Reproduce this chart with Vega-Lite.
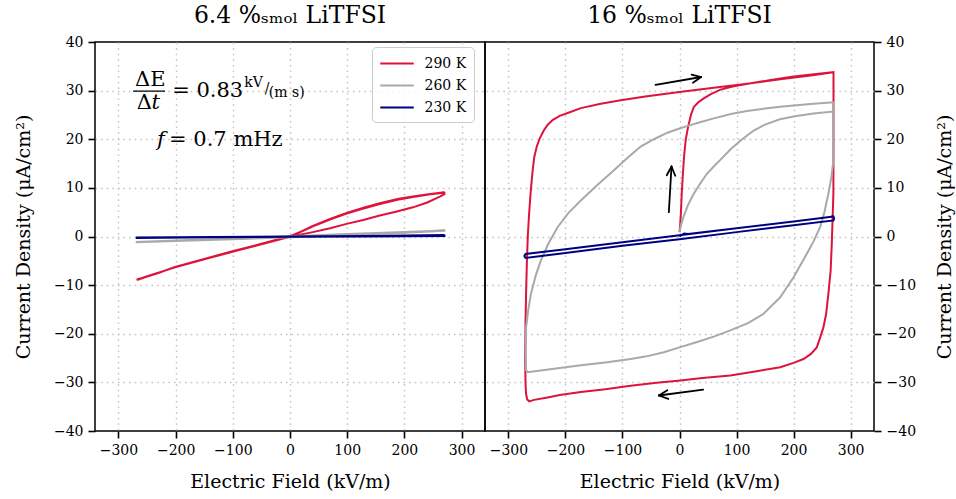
{
  "$schema": "https://vega.github.io/schema/vega-lite/v6.json",
  "padding": {"left": 13, "top": 2, "right": 2, "bottom": 2},
  "background": "white",
  "bounds": "flush",
  "config": {
    "font": "DejaVu Serif",
    "view": {"stroke": "black", "strokeWidth": 1.5},
    "axis": {
      "labelFont": "DejaVu Serif", "labelFontSize": 14, "labelColor": "black",
      "titleFont": "DejaVu Serif", "titleFontSize": 19, "titleFontWeight": "normal", "titleColor": "black",
      "tickColor": "black", "tickWidth": 1.6, "tickSize": 7, "domain": false,
      "gridColor": "#c4c4c4", "gridDash": [1.6, 4], "gridWidth": 1.4, "labelPadding": 5
    },
    "legend": {"labelFont": "DejaVu Serif"},
    "title": {"font": "DejaVu Serif", "fontSize": 23.5, "fontWeight": "normal", "color": "black", "offset": 8}
  },
  "datasets": {
    "left": [
      {"T": "290 K", "i": 0, "E": 0, "J": 0},
      {"T": "290 K", "i": 1, "E": 20, "J": 1.0},
      {"T": "290 K", "i": 2, "E": 40, "J": 2.1},
      {"T": "290 K", "i": 3, "E": 70, "J": 3.5},
      {"T": "290 K", "i": 4, "E": 99, "J": 4.7},
      {"T": "290 K", "i": 5, "E": 130, "J": 5.8},
      {"T": "290 K", "i": 6, "E": 157, "J": 6.7},
      {"T": "290 K", "i": 7, "E": 190, "J": 7.6},
      {"T": "290 K", "i": 8, "E": 215, "J": 8.1},
      {"T": "290 K", "i": 9, "E": 245, "J": 8.7},
      {"T": "290 K", "i": 10, "E": 265, "J": 8.95},
      {"T": "290 K", "i": 11, "E": 270, "J": 9.0},
      {"T": "290 K", "i": 12, "E": 270, "J": 8.7},
      {"T": "290 K", "i": 13, "E": 262, "J": 8.2},
      {"T": "290 K", "i": 14, "E": 240, "J": 7.0},
      {"T": "290 K", "i": 15, "E": 215, "J": 6.0},
      {"T": "290 K", "i": 16, "E": 185, "J": 5.1},
      {"T": "290 K", "i": 17, "E": 157, "J": 4.3},
      {"T": "290 K", "i": 18, "E": 128, "J": 3.4},
      {"T": "290 K", "i": 19, "E": 99, "J": 2.6},
      {"T": "290 K", "i": 20, "E": 70, "J": 1.7},
      {"T": "290 K", "i": 21, "E": 40, "J": 0.9},
      {"T": "290 K", "i": 22, "E": 15, "J": 0.3},
      {"T": "290 K", "i": 23, "E": 0, "J": -0.05},
      {"T": "290 K", "i": 24, "E": -50, "J": -1.6},
      {"T": "290 K", "i": 25, "E": -99, "J": -3.1},
      {"T": "290 K", "i": 26, "E": -150, "J": -4.7},
      {"T": "290 K", "i": 27, "E": -201, "J": -6.35},
      {"T": "290 K", "i": 28, "E": -240, "J": -7.8},
      {"T": "290 K", "i": 29, "E": -260, "J": -8.6},
      {"T": "290 K", "i": 30, "E": -268, "J": -8.85},
      {"T": "290 K", "i": 31, "E": -266, "J": -8.9},
      {"T": "290 K", "i": 32, "E": -255, "J": -8.45},
      {"T": "290 K", "i": 33, "E": -230, "J": -7.5},
      {"T": "290 K", "i": 34, "E": -201, "J": -6.25},
      {"T": "290 K", "i": 35, "E": -150, "J": -4.6},
      {"T": "290 K", "i": 36, "E": -99, "J": -3.0},
      {"T": "290 K", "i": 37, "E": -50, "J": -1.5},
      {"T": "290 K", "i": 38, "E": 0, "J": 0.05},
      {"T": "290 K", "i": 39, "E": 20, "J": 1.05},
      {"T": "290 K", "i": 40, "E": 40, "J": 2.2},
      {"T": "290 K", "i": 41, "E": 70, "J": 3.6},
      {"T": "290 K", "i": 42, "E": 99, "J": 4.85},
      {"T": "290 K", "i": 43, "E": 130, "J": 5.95},
      {"T": "290 K", "i": 44, "E": 157, "J": 6.85},
      {"T": "290 K", "i": 45, "E": 190, "J": 7.75},
      {"T": "290 K", "i": 46, "E": 215, "J": 8.25},
      {"T": "290 K", "i": 47, "E": 245, "J": 8.75},
      {"T": "290 K", "i": 48, "E": 270, "J": 9.1},
      {"T": "260 K", "i": 0, "E": 0, "J": 0.05},
      {"T": "260 K", "i": 1, "E": 100, "J": 0.5},
      {"T": "260 K", "i": 2, "E": 200, "J": 0.9},
      {"T": "260 K", "i": 3, "E": 270, "J": 1.25},
      {"T": "260 K", "i": 4, "E": 270, "J": 1.15},
      {"T": "260 K", "i": 5, "E": 200, "J": 0.75},
      {"T": "260 K", "i": 6, "E": 100, "J": 0.3},
      {"T": "260 K", "i": 7, "E": 0, "J": -0.15},
      {"T": "260 K", "i": 8, "E": -100, "J": -0.55},
      {"T": "260 K", "i": 9, "E": -200, "J": -0.9},
      {"T": "260 K", "i": 10, "E": -268, "J": -1.2},
      {"T": "260 K", "i": 11, "E": -268, "J": -1.1},
      {"T": "260 K", "i": 12, "E": -200, "J": -0.8},
      {"T": "260 K", "i": 13, "E": -100, "J": -0.4},
      {"T": "260 K", "i": 14, "E": 0, "J": 0.05},
      {"T": "260 K", "i": 15, "E": 100, "J": 0.5},
      {"T": "260 K", "i": 16, "E": 200, "J": 0.9},
      {"T": "260 K", "i": 17, "E": 270, "J": 1.25},
      {"T": "230 K", "i": 0, "E": 0, "J": 0},
      {"T": "230 K", "i": 1, "E": 135, "J": 0.1},
      {"T": "230 K", "i": 2, "E": 270, "J": 0.2},
      {"T": "230 K", "i": 3, "E": 270, "J": 0.12},
      {"T": "230 K", "i": 4, "E": 135, "J": 0.02},
      {"T": "230 K", "i": 5, "E": 0, "J": -0.05},
      {"T": "230 K", "i": 6, "E": -134, "J": -0.17},
      {"T": "230 K", "i": 7, "E": -268, "J": -0.3},
      {"T": "230 K", "i": 8, "E": -268, "J": -0.22},
      {"T": "230 K", "i": 9, "E": -134, "J": -0.1},
      {"T": "230 K", "i": 10, "E": 0, "J": 0.02},
      {"T": "230 K", "i": 11, "E": 135, "J": 0.12},
      {"T": "230 K", "i": 12, "E": 270, "J": 0.22}
    ],
    "right": [
      {"T": "290 K", "i": 0, "E": 0, "J": 0.9},
      {"T": "290 K", "i": 1, "E": 1, "J": 2},
      {"T": "290 K", "i": 2, "E": 2.5, "J": 5},
      {"T": "290 K", "i": 3, "E": 4, "J": 9},
      {"T": "290 K", "i": 4, "E": 6, "J": 13},
      {"T": "290 K", "i": 5, "E": 8, "J": 16.5},
      {"T": "290 K", "i": 6, "E": 11, "J": 20},
      {"T": "290 K", "i": 7, "E": 15, "J": 22.5},
      {"T": "290 K", "i": 8, "E": 20, "J": 25},
      {"T": "290 K", "i": 9, "E": 25, "J": 26.6},
      {"T": "290 K", "i": 10, "E": 33, "J": 27.6},
      {"T": "290 K", "i": 11, "E": 42.5, "J": 28.4},
      {"T": "290 K", "i": 12, "E": 55, "J": 29.3},
      {"T": "290 K", "i": 13, "E": 72, "J": 30.2},
      {"T": "290 K", "i": 14, "E": 95, "J": 30.9},
      {"T": "290 K", "i": 15, "E": 120, "J": 31.4},
      {"T": "290 K", "i": 16, "E": 160, "J": 32.2},
      {"T": "290 K", "i": 17, "E": 200, "J": 32.9},
      {"T": "290 K", "i": 18, "E": 240, "J": 33.4},
      {"T": "290 K", "i": 19, "E": 270, "J": 33.8},
      {"T": "290 K", "i": 20, "E": 270, "J": 30},
      {"T": "290 K", "i": 21, "E": 270, "J": 20},
      {"T": "290 K", "i": 22, "E": 269.8, "J": 8.8},
      {"T": "290 K", "i": 23, "E": 267, "J": -1.5},
      {"T": "290 K", "i": 24, "E": 265, "J": -7},
      {"T": "290 K", "i": 25, "E": 261, "J": -11.8},
      {"T": "290 K", "i": 26, "E": 257, "J": -16},
      {"T": "290 K", "i": 27, "E": 252.3, "J": -18.7},
      {"T": "290 K", "i": 28, "E": 246, "J": -21},
      {"T": "290 K", "i": 29, "E": 240.7, "J": -22.8},
      {"T": "290 K", "i": 30, "E": 230, "J": -24.2},
      {"T": "290 K", "i": 31, "E": 217.3, "J": -25.2},
      {"T": "290 K", "i": 32, "E": 200, "J": -26},
      {"T": "290 K", "i": 33, "E": 176.6, "J": -26.9},
      {"T": "290 K", "i": 34, "E": 130, "J": -27.8},
      {"T": "290 K", "i": 35, "E": 89, "J": -28.6},
      {"T": "290 K", "i": 36, "E": 40, "J": -29.1},
      {"T": "290 K", "i": 37, "E": 1.7, "J": -29.6},
      {"T": "290 K", "i": 38, "E": -40, "J": -30.1},
      {"T": "290 K", "i": 39, "E": -85.7, "J": -30.7},
      {"T": "290 K", "i": 40, "E": -130, "J": -31.4},
      {"T": "290 K", "i": 41, "E": -173, "J": -32.0},
      {"T": "290 K", "i": 42, "E": -210, "J": -32.6},
      {"T": "290 K", "i": 43, "E": -231.3, "J": -33.1},
      {"T": "290 K", "i": 44, "E": -255, "J": -33.6},
      {"T": "290 K", "i": 45, "E": -263.5, "J": -33.9},
      {"T": "290 K", "i": 46, "E": -267, "J": -33.5},
      {"T": "290 K", "i": 47, "E": -269, "J": -32.4},
      {"T": "290 K", "i": 48, "E": -270, "J": -30},
      {"T": "290 K", "i": 49, "E": -270.5, "J": -25.5},
      {"T": "290 K", "i": 50, "E": -270, "J": -18},
      {"T": "290 K", "i": 51, "E": -269, "J": -11.8},
      {"T": "290 K", "i": 52, "E": -267.5, "J": -5},
      {"T": "290 K", "i": 53, "E": -266, "J": 0},
      {"T": "290 K", "i": 54, "E": -263.5, "J": 5},
      {"T": "290 K", "i": 55, "E": -260.5, "J": 9.8},
      {"T": "290 K", "i": 56, "E": -257.5, "J": 13.5},
      {"T": "290 K", "i": 57, "E": -254.7, "J": 16.3},
      {"T": "290 K", "i": 58, "E": -250, "J": 18.6},
      {"T": "290 K", "i": 59, "E": -245, "J": 20.2},
      {"T": "290 K", "i": 60, "E": -238, "J": 21.8},
      {"T": "290 K", "i": 61, "E": -231, "J": 23.0},
      {"T": "290 K", "i": 62, "E": -222, "J": 24.0},
      {"T": "290 K", "i": 63, "E": -210, "J": 24.8},
      {"T": "290 K", "i": 64, "E": -196, "J": 25.4},
      {"T": "290 K", "i": 65, "E": -173, "J": 26.4},
      {"T": "290 K", "i": 66, "E": -138, "J": 27.3},
      {"T": "290 K", "i": 67, "E": -103, "J": 28.0},
      {"T": "290 K", "i": 68, "E": -60, "J": 28.8},
      {"T": "290 K", "i": 69, "E": 0, "J": 29.7},
      {"T": "290 K", "i": 70, "E": 60, "J": 30.6},
      {"T": "290 K", "i": 71, "E": 118.4, "J": 31.4},
      {"T": "290 K", "i": 72, "E": 180, "J": 32.4},
      {"T": "290 K", "i": 73, "E": 230, "J": 33.1},
      {"T": "290 K", "i": 74, "E": 270, "J": 33.8},
      {"T": "260 K", "i": 0, "E": 0, "J": 0.9},
      {"T": "260 K", "i": 1, "E": 3, "J": 2.5},
      {"T": "260 K", "i": 2, "E": 7.5, "J": 4.2},
      {"T": "260 K", "i": 3, "E": 15, "J": 6.5},
      {"T": "260 K", "i": 4, "E": 25, "J": 8.8},
      {"T": "260 K", "i": 5, "E": 37, "J": 11},
      {"T": "260 K", "i": 6, "E": 48, "J": 12.9},
      {"T": "260 K", "i": 7, "E": 60, "J": 14.4},
      {"T": "260 K", "i": 8, "E": 72, "J": 15.8},
      {"T": "260 K", "i": 9, "E": 90, "J": 18},
      {"T": "260 K", "i": 10, "E": 110, "J": 20},
      {"T": "260 K", "i": 11, "E": 130, "J": 21.8},
      {"T": "260 K", "i": 12, "E": 150, "J": 23},
      {"T": "260 K", "i": 13, "E": 176, "J": 24.1},
      {"T": "260 K", "i": 14, "E": 205, "J": 24.8},
      {"T": "260 K", "i": 15, "E": 235, "J": 25.3},
      {"T": "260 K", "i": 16, "E": 270, "J": 25.7},
      {"T": "260 K", "i": 17, "E": 270, "J": 20},
      {"T": "260 K", "i": 18, "E": 269.8, "J": 15.6},
      {"T": "260 K", "i": 19, "E": 266, "J": 12},
      {"T": "260 K", "i": 20, "E": 261, "J": 8.8},
      {"T": "260 K", "i": 21, "E": 254, "J": 5},
      {"T": "260 K", "i": 22, "E": 246.5, "J": 1.9},
      {"T": "260 K", "i": 23, "E": 235, "J": -1},
      {"T": "260 K", "i": 24, "E": 223, "J": -3.6},
      {"T": "260 K", "i": 25, "E": 200, "J": -8.4},
      {"T": "260 K", "i": 26, "E": 176.6, "J": -12.5},
      {"T": "260 K", "i": 27, "E": 147.4, "J": -15.9},
      {"T": "260 K", "i": 28, "E": 120, "J": -17.8},
      {"T": "260 K", "i": 29, "E": 89, "J": -19.3},
      {"T": "260 K", "i": 30, "E": 60, "J": -20.6},
      {"T": "260 K", "i": 31, "E": 31, "J": -21.7},
      {"T": "260 K", "i": 32, "E": 0, "J": -22.8},
      {"T": "260 K", "i": 33, "E": -27.4, "J": -23.8},
      {"T": "260 K", "i": 34, "E": -60, "J": -24.7},
      {"T": "260 K", "i": 35, "E": -85.7, "J": -25.2},
      {"T": "260 K", "i": 36, "E": -130, "J": -25.9},
      {"T": "260 K", "i": 37, "E": -173, "J": -26.5},
      {"T": "260 K", "i": 38, "E": -220, "J": -27.2},
      {"T": "260 K", "i": 39, "E": -266.3, "J": -27.9},
      {"T": "260 K", "i": 40, "E": -269, "J": -27.5},
      {"T": "260 K", "i": 41, "E": -269.5, "J": -24},
      {"T": "260 K", "i": 42, "E": -269, "J": -18.7},
      {"T": "260 K", "i": 43, "E": -265, "J": -15},
      {"T": "260 K", "i": 44, "E": -260.5, "J": -11.8},
      {"T": "260 K", "i": 45, "E": -252, "J": -8},
      {"T": "260 K", "i": 46, "E": -243, "J": -4.9},
      {"T": "260 K", "i": 47, "E": -230, "J": -1.5},
      {"T": "260 K", "i": 48, "E": -213.8, "J": 1.9},
      {"T": "260 K", "i": 49, "E": -195, "J": 4.8},
      {"T": "260 K", "i": 50, "E": -173, "J": 7.4},
      {"T": "260 K", "i": 51, "E": -145, "J": 10.5},
      {"T": "260 K", "i": 52, "E": -115, "J": 13.6},
      {"T": "260 K", "i": 53, "E": -90, "J": 16.3},
      {"T": "260 K", "i": 54, "E": -68, "J": 18.5},
      {"T": "260 K", "i": 55, "E": -45, "J": 20.0},
      {"T": "260 K", "i": 56, "E": -20, "J": 21.4},
      {"T": "260 K", "i": 57, "E": 0, "J": 22.2},
      {"T": "260 K", "i": 58, "E": 16, "J": 22.8},
      {"T": "260 K", "i": 59, "E": 36, "J": 23.5},
      {"T": "260 K", "i": 60, "E": 60, "J": 24.3},
      {"T": "260 K", "i": 61, "E": 90, "J": 25.2},
      {"T": "260 K", "i": 62, "E": 118, "J": 25.8},
      {"T": "260 K", "i": 63, "E": 150, "J": 26.3},
      {"T": "260 K", "i": 64, "E": 176.6, "J": 26.7},
      {"T": "260 K", "i": 65, "E": 234.8, "J": 27.3},
      {"T": "260 K", "i": 66, "E": 270, "J": 27.6},
      {"T": "260 K", "i": 67, "E": 270, "J": 25.5},
      {"T": "230 K", "i": 0, "E": 0, "J": 0},
      {"T": "230 K", "i": 1, "E": 8, "J": 0.6},
      {"T": "230 K", "i": 2, "E": 15, "J": 0.5},
      {"T": "230 K", "i": 3, "E": 100, "J": 1.7},
      {"T": "230 K", "i": 4, "E": 200, "J": 3.1},
      {"T": "230 K", "i": 5, "E": 270, "J": 4.1},
      {"T": "230 K", "i": 6, "E": 271, "J": 3.7},
      {"T": "230 K", "i": 7, "E": 270, "J": 3.3},
      {"T": "230 K", "i": 8, "E": 200, "J": 2.3},
      {"T": "230 K", "i": 9, "E": 100, "J": 0.9},
      {"T": "230 K", "i": 10, "E": 0, "J": -0.55},
      {"T": "230 K", "i": 11, "E": -100, "J": -1.9},
      {"T": "230 K", "i": 12, "E": -200, "J": -3.4},
      {"T": "230 K", "i": 13, "E": -270, "J": -4.4},
      {"T": "230 K", "i": 14, "E": -272, "J": -4.0},
      {"T": "230 K", "i": 15, "E": -270, "J": -3.6},
      {"T": "230 K", "i": 16, "E": -200, "J": -2.6},
      {"T": "230 K", "i": 17, "E": -100, "J": -1.2},
      {"T": "230 K", "i": 18, "E": 0, "J": 0.25},
      {"T": "230 K", "i": 19, "E": 100, "J": 1.7},
      {"T": "230 K", "i": 20, "E": 200, "J": 3.1},
      {"T": "230 K", "i": 21, "E": 270, "J": 4.1}
    ],
    "arrows": [
      {"E": -42, "J": 31.2, "E2": 37.9, "J2": 32.8},
      {"E": 37.9, "J": 32.8, "E2": 21.2, "J2": 33.3},
      {"E": 37.9, "J": 32.8, "E2": 23.6, "J2": 31.6},
      {"E": -18.7, "J": 5.0, "E2": -14.0, "J2": 14.4},
      {"E": -14.0, "J": 14.4, "E2": -22.4, "J2": 12.6},
      {"E": -14.0, "J": 14.4, "E2": -7.5, "J2": 12.5},
      {"E": 41.4, "J": -31.5, "E2": -36.2, "J2": -32.7},
      {"E": -36.2, "J": -32.7, "E2": -19.6, "J2": -33.4},
      {"E": -36.2, "J": -32.7, "E2": -21.3, "J2": -31.6}
    ]
  },
  "spacing": 0,
  "resolve": {"scale": {"color": "independent"}, "legend": {"color": "independent"}},
  "hconcat": [
    {
      "width": 390,
      "height": 389,
      "title": {"text": "6.4 %ₛₘₒₗ LiTFSI"},
      "layer": [
        {
          "data": {"name": "left"},
          "mark": {"type": "line", "strokeWidth": 2, "clip": true},
          "encoding": {
            "x": {"field": "E", "type": "quantitative", "scale": {"domain": [-341, 341], "nice": false, "zero": false},
                  "axis": {"values": [-300, -200, -100, 0, 100, 200, 300], "title": "Electric Field (kV/m)", "titlePadding": 15}},
            "y": {"field": "J", "type": "quantitative", "scale": {"domain": [-40, 40], "nice": false},
                  "axis": {"values": [-40, -30, -20, -10, 0, 10, 20, 30, 40], "title": "Current Density (μA/cm²)", "titlePadding": 20,
                           "gridOpacity": {"condition": {"test": "abs(datum.value) >= 40", "value": 0}, "value": 1}}},
            "color": {"field": "T", "type": "nominal",
                      "scale": {"domain": ["290 K", "260 K", "230 K"], "range": ["#dc143c", "#a9a9a9", "#000080"]},
                      "legend": {"orient": "none", "legendX": 277, "legendY": 5, "title": null,
                                 "symbolType": "M-2,0H2", "symbolStrokeWidth": 2, "symbolSize": 280, "symbolOffset": 8.5,
                                 "labelFont": "DejaVu Serif", "labelFontSize": 14, "labelColor": "black",
                                 "fillColor": "rgba(255,255,255,0.8)", "strokeColor": "#cccccc", "cornerRadius": 4,
                                 "padding": 7, "rowPadding": 5, "labelOffset": 18}},
            "order": {"field": "i", "type": "quantitative"}
          }
        },
        {
          "data": {"values": [{"E": -271, "J": 32.1, "t": "ΔE"}, {"E": -268, "J": 27.5, "t": "Δ"}]},
          "mark": {"type": "text", "font": "DejaVu Serif", "fontSize": 21, "align": "left", "baseline": "middle", "color": "black"},
          "encoding": {"x": {"field": "E", "type": "quantitative"}, "y": {"field": "J", "type": "quantitative"}, "text": {"field": "t"}}
        },
        {
          "data": {"values": [{"E": -242, "J": 27.5, "t": "t"}]},
          "mark": {"type": "text", "font": "DejaVu Serif", "fontSize": 21, "fontStyle": "italic", "align": "left", "baseline": "middle", "color": "black"},
          "encoding": {"x": {"field": "E", "type": "quantitative"}, "y": {"field": "J", "type": "quantitative"}, "text": {"field": "t"}}
        },
        {
          "data": {"values": [{"E": -274.5, "E2": -218.5, "J": 29.9}]},
          "mark": {"type": "rule", "color": "black", "strokeWidth": 1.2},
          "encoding": {"x": {"field": "E", "type": "quantitative"}, "x2": {"field": "E2"}, "y": {"field": "J", "type": "quantitative"}}
        },
        {
          "data": {"values": [{"E": -206, "J": 30.0, "t": "= 0.83"}, {"E": -211.5, "J": 19.9, "t": "= 0.7 mHz"}]},
          "mark": {"type": "text", "font": "DejaVu Serif", "fontSize": 21, "align": "left", "baseline": "middle", "color": "black"},
          "encoding": {"x": {"field": "E", "type": "quantitative"}, "y": {"field": "J", "type": "quantitative"}, "text": {"field": "t"}}
        },
        {
          "data": {"values": [{"E": -232.5, "J": 19.9, "t": "f"}]},
          "mark": {"type": "text", "font": "DejaVu Serif", "fontSize": 21, "fontStyle": "italic", "align": "left", "baseline": "middle", "color": "black"},
          "encoding": {"x": {"field": "E", "type": "quantitative"}, "y": {"field": "J", "type": "quantitative"}, "text": {"field": "t"}}
        },
        {
          "data": {"values": [{"E": -80, "J": 31.5, "t": "kV"}, {"E": -44, "J": 30.3, "t": "/"}, {"E": -37, "J": 29.5, "t": "(m s)"}]},
          "mark": {"type": "text", "font": "DejaVu Serif", "fontSize": 14, "align": "left", "baseline": "middle", "color": "black"},
          "encoding": {"x": {"field": "E", "type": "quantitative"}, "y": {"field": "J", "type": "quantitative"}, "text": {"field": "t"}}
        }
      ]
    },
    {
      "width": 389,
      "height": 389,
      "title": {"text": "16 %ₛₘₒₗ LiTFSI"},
      "layer": [
        {
          "data": {"name": "right"},
          "mark": {"type": "line", "strokeWidth": 2, "clip": true},
          "encoding": {
            "x": {"field": "E", "type": "quantitative", "scale": {"domain": [-341, 341], "nice": false, "zero": false},
                  "axis": {"values": [-300, -200, -100, 0, 100, 200, 300], "title": "Electric Field (kV/m)", "titlePadding": 15}},
            "y": {"field": "J", "type": "quantitative", "scale": {"domain": [-40, 40], "nice": false},
                  "axis": {"orient": "right", "values": [-40, -30, -20, -10, 0, 10, 20, 30, 40], "title": "Current Density (μA/cm²)", "titleAngle": 270, "titlePadding": 39,
                           "gridOpacity": {"condition": {"test": "abs(datum.value) >= 40", "value": 0}, "value": 1}}},
            "color": {"field": "T", "type": "nominal",
                      "scale": {"domain": ["290 K", "260 K", "230 K"], "range": ["#dc143c", "#a9a9a9", "#000080"]},
                      "legend": null},
            "order": {"field": "i", "type": "quantitative"}
          }
        },
        {
          "data": {"name": "arrows"},
          "mark": {"type": "rule", "color": "black", "strokeWidth": 1.8, "strokeCap": "round"},
          "encoding": {
            "x": {"field": "E", "type": "quantitative"}, "y": {"field": "J", "type": "quantitative"},
            "x2": {"field": "E2"}, "y2": {"field": "J2"}
          }
        }
      ]
    }
  ]
}
